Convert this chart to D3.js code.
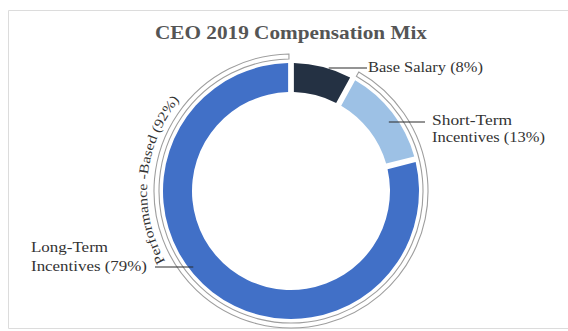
<!DOCTYPE html>
<html>
<head>
<meta charset="utf-8">
<script src="https://cdn.jsdelivr.net/npm/d3@7"></script>
<style>
  html, body { margin: 0; padding: 0; background: #fff; }
  svg { display: block; }
</style>
</head>
<body>
<script>
// Compensation components, in share of total pay (%)
const components = ["Base Salary", "Short-Term Incentives", "Long-Term Incentives"];
const shares = [8, 13, 79];
const labelLines = [["Base Salary (8%)"], ["Short-Term", "Incentives (13%)"], ["Long-Term", "Incentives (79%)"]];
const colors = ["#243143", "#9dc1e5", "#4170c7"];
// Components grouped under the outer bracket
const groupMembers = ["Short-Term Incentives", "Long-Term Incentives"];
const groupLabel = "Performance -Based (92%)";
const title = "CEO 2019 Compensation Mix";

const W = 568, H = 331;
const cx = 291, cy = 191;
const rInner = 99, rOuter = 128;
const rBandIn = 132, rBandOut = 137;

const svg = d3.select("body").append("svg").attr("width", W).attr("height", H);

// light frame around the chart area
svg.append("path")
  .attr("d", `M${W + 2},10.5 H8.5 V328.5 H${W + 2}`)
  .attr("fill", "none").attr("stroke", "#dcdcdc").attr("stroke-width", 1);

svg.append("text")
  .attr("x", cx).attr("y", 39)
  .attr("text-anchor", "middle")
  .attr("font-family", "'Liberation Serif', serif")
  .attr("font-weight", "bold").attr("font-size", 19)
  .attr("fill", "#555555")
  .attr("textLength", 272).attr("lengthAdjust", "spacingAndGlyphs")
  .text(title);

const data = components.map((c, i) => ({ name: c, value: shares[i], color: colors[i], lines: labelLines[i] }));

const pie = d3.pie().value(d => d.value).sort(null).startAngle(0).endAngle(2 * Math.PI);
const slices = pie(data);

const g = svg.append("g").attr("transform", `translate(${cx},${cy})`);

const arc = d3.arc().innerRadius(rInner).outerRadius(rOuter)
  .padAngle(0.045).padRadius(rOuter);

g.selectAll("path.slice").data(slices).join("path")
  .attr("class", "slice")
  .attr("d", arc)
  .attr("fill", d => d.data.color);

// outer bracket spanning the performance-based components
const members = slices.filter(s => groupMembers.includes(s.data.name));
const bandStart = d3.min(members, s => s.startAngle);
const bandEnd = d3.max(members, s => s.endAngle);
const band = d3.arc().innerRadius(rBandIn).outerRadius(rBandOut)
  .padAngle(0.03).padRadius(rBandOut);
g.append("path")
  .attr("d", band({ startAngle: bandStart, endAngle: bandEnd }))
  .attr("fill", "#fff").attr("stroke", "#9e9e9e").attr("stroke-width", 1.1);

// curved group label on the left side, reading upwards
const textR = 144;
const tp = d3.path();
const mid = 275 * Math.PI / 180;
const half = 60 * Math.PI / 180;
tp.arc(0, 0, textR, mid - half - Math.PI / 2, mid + half - Math.PI / 2, false);
g.append("path").attr("id", "grpPath").attr("d", tp.toString()).attr("fill", "none");
g.append("text")
  .attr("font-family", "'Liberation Serif', serif")
  .attr("font-size", 13.5).attr("fill", "#333333")
  .append("textPath")
  .attr("href", "#grpPath")
  .attr("startOffset", "50%").attr("text-anchor", "middle")
  .attr("textLength", 172).attr("lengthAdjust", "spacingAndGlyphs")
  .text(groupLabel);

// callout labels with leader lines
const callouts = [
  { angle: 17, r: 129, x: 367, lines: [{ y: 72, len: 115 }], lineY: 68, tx: 368 },
  { angle: 56, r: 118, x: 425, lines: [{ y: 125, len: 80 }, { y: 142, len: 113 }], lineY: 122, tx: 432 },
  { angle: 232, r: 124, x: 155, lines: [{ y: 252, len: 77 }, { y: 271, len: 116 }], lineY: 267, tx: 31 }
];

slices.forEach((s, i) => {
  const c = callouts[i];
  const a = c.angle * Math.PI / 180;
  const px = cx + c.r * Math.sin(a);
  svg.append("line")
    .attr("x1", px).attr("y1", c.lineY)
    .attr("x2", c.x).attr("y2", c.lineY)
    .attr("stroke", "#2b2b2b").attr("stroke-width", 1.1);
  s.data.lines.forEach((t, j) => {
    svg.append("text")
      .attr("x", c.tx).attr("y", c.lines[j].y)
      .attr("font-family", "'Liberation Serif', serif")
      .attr("font-size", 15.5).attr("fill", "#333333")
      .attr("textLength", c.lines[j].len).attr("lengthAdjust", "spacingAndGlyphs")
      .text(t);
  });
});
</script>
</body>
</html>
